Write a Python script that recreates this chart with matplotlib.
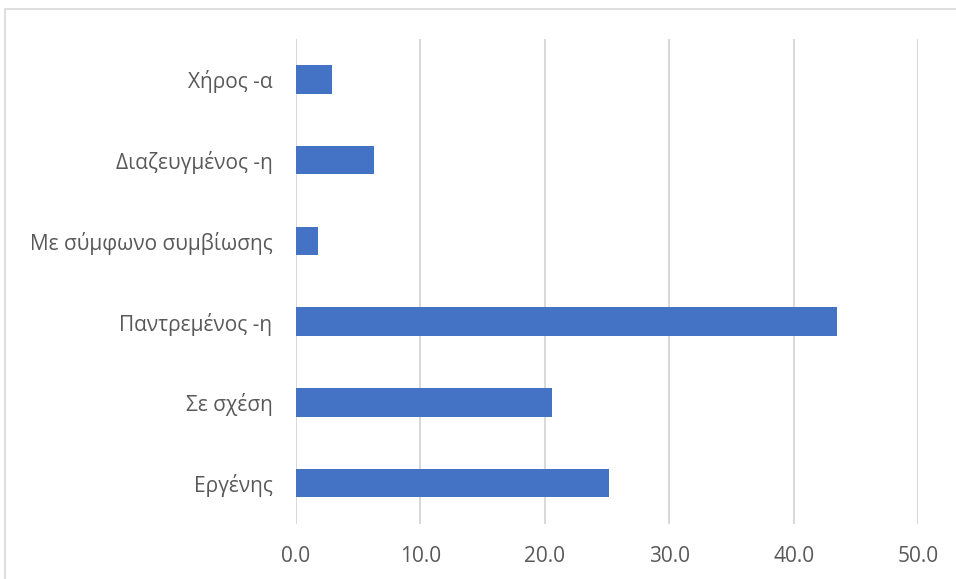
import matplotlib.pyplot as plt
from matplotlib.patches import Rectangle

# categories from bottom to top
categories = ["Εργένης", "Σε σχέση", "Παντρεμένος -η", "Με σύμφωνο συμβίωσης",
              "Διαζευγμένος -η", "Χήρος -α"]
values = [25.2, 20.6, 43.5, 1.8, 6.3, 2.9]
xticks = [0, 10, 20, 30, 40, 50]

plt.rcParams['font.family'] = ['Open Sans', 'DejaVu Sans']

fig = plt.figure(figsize=(9.56, 5.79), dpi=100)
W, H = 956, 579
ax = fig.add_axes([296 / W, (H - 523.5) / H, (918 - 296) / W, (523.5 - 39) / H])

ax.barh(range(len(categories)), values, height=0.35, color="#4472C4", zorder=3)
ax.set_ylim(-0.5, len(categories) - 0.5)
ax.set_xlim(0, 50)
ax.set_xticks(xticks)
ax.set_xticklabels([f"{t:.1f}" for t in xticks])
ax.set_yticks(range(len(categories)))
ax.set_yticklabels(categories)

ax.grid(axis="x", color="#d9d9d9", linewidth=1.5, zorder=0)
for s in ax.spines.values():
    s.set_visible(False)
ax.tick_params(axis="both", length=0, colors="#595959", labelsize=15)
ax.tick_params(axis="x", pad=16)
ax.tick_params(axis="y", pad=17)

# chart frame
fig.patches.append(Rectangle((4.7 / W, -0.1), 1.2, 1.1 - 9.5 / H, transform=fig.transFigure,
                             fill=False, edgecolor="#d9d9d9", linewidth=1.2))

fig.savefig("out.png", dpi=100)
